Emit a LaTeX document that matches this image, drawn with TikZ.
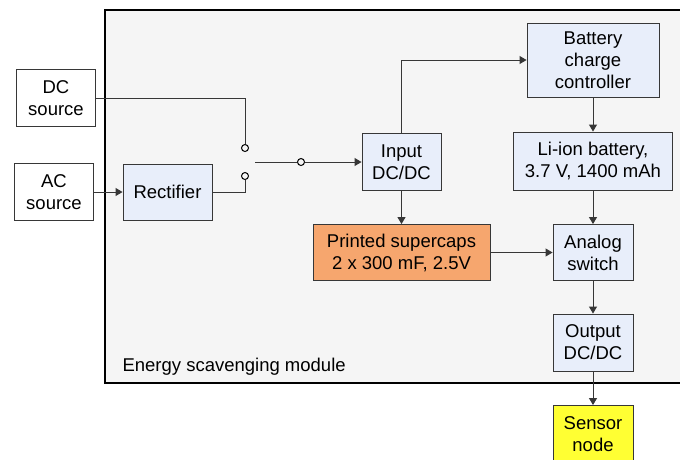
\documentclass[tikz,border=0pt]{standalone}
\usepackage{fontspec}
\setmainfont{Liberation Sans}
\usepackage{tikz}
\usetikzlibrary{arrows.meta,positioning}
\definecolor{blockblue}{RGB}{232,238,250}
\definecolor{framegray}{RGB}{245,245,245}
\definecolor{capsorange}{RGB}{246,166,110}
\definecolor{sensoryellow}{RGB}{255,255,51}
\definecolor{edgegray}{RGB}{55,55,55}

\begin{document}
\begin{tikzpicture}[
  x=1pt, y=-1pt,
  font=\fontsize{18.5}{22}\selectfont,
  block/.style={draw=edgegray, line width=0.9pt, fill=blockblue, align=center, inner sep=0pt},
  source/.style={draw=edgegray, line width=0.9pt, fill=white, align=center, inner sep=0pt,
    minimum width=79pt, minimum height=57pt},
  contact/.style={draw=black, circle, line width=1pt, fill=framegray, minimum size=7pt, inner sep=0pt},
  wire/.style={line width=1pt, draw=edgegray},
  arr/.style={wire, -{Triangle[length=7pt,width=8pt]}}
]
\useasboundingbox (0,0) rectangle (680,459);
\clip (0,0) rectangle (680,459);

% module frame
\draw[line width=1.8pt, fill=framegray] (105,10) rectangle (700,383);
\node[anchor=west] (esm) at (119,367) {Energy scavenging module};

\node[source] (dc) at (56,98) {DC\\source};
\node[source] (ac) at (54,192) {AC\\source};
\node[block, minimum width=89pt, minimum height=56pt] (rect) at (167.5,192) {Rectifier};

\node[contact] (sw1) at (245,148) {};
\node[contact] (sw2) at (245,176) {};
\coordinate (lever) at (255,162);
\node[contact] (sw0) at (301,162) {};

\node[block, minimum width=79pt, minimum height=57pt] (in) at (401.5,162) {Input\\DC/DC};
\node[block, minimum width=132pt, minimum height=74pt] (bcc) at (593,60) {Battery\\charge\\controller};
\node[block, minimum width=159pt, minimum height=58pt] (bat) at (593,161) {Li-ion battery,\\3.7 V, 1400 mAh};
\node[block, fill=capsorange, minimum width=177pt, minimum height=56pt] (caps) at (401.5,252.5) {Printed supercaps\\2 x 300 mF, 2.5V};
\node[block, minimum width=80pt, minimum height=56pt] (asw) at (593,252.5) {Analog\\switch};
\node[block, minimum width=80pt, minimum height=57pt] (out) at (593,342.5) {Output\\DC/DC};
\node[block, fill=sensoryellow, minimum width=80pt, minimum height=57pt] (sens) at (593,434) {Sensor\\node};

\draw[wire] (dc.east) -| (sw1.north);
\draw[arr] (ac.east) -- (rect.west);
\draw[wire] (rect.east) -| (sw2.south);
\draw[wire] (lever) -- (sw0.west);
\draw[arr] (sw0.east) -- (in.west);
\draw[arr] (in.north) |- (bcc.west);
\draw[arr] (bcc.south) -- (bat.north);
\draw[arr] (in.south) -- (caps.north);
\draw[arr] (caps.east) -- (asw.west);
\draw[arr] (bat.south) -- (asw.north);
\draw[arr] (asw.south) -- (out.north);
\draw[arr] (out.south) -- (sens.north);
\end{tikzpicture}
\end{document}
